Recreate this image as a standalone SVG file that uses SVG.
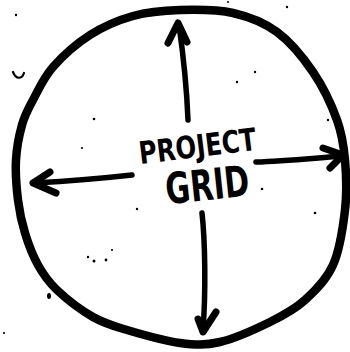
<svg xmlns="http://www.w3.org/2000/svg" width="350" height="352" viewBox="0 0 350 352">
<style>
.ink{fill:none;stroke:#000;stroke-linecap:round;stroke-linejoin:round}
.ring{stroke-width:8.5}
.shaft{stroke-width:5.5}
.head{stroke-width:7}
.lbl{font-family:"DejaVu Sans Condensed","DejaVu Sans","Liberation Sans",sans-serif;font-weight:bold;fill:#000}
.dot{fill:#000}
</style>
<rect width="350" height="352" fill="#fff"/>
<g id="grid">
<path class="ink ring" d="M180,10 C196.7,9.5 216.8,9.3 233,13 C249.2,16.7 263.7,22.2 277,32 C290.3,41.8 303,57.3 313,72 C323,86.7 331.7,105.3 337,120 C342.3,134.7 343.7,145 345,160 C346.3,175 347,192.5 345,210 C343,227.5 339.7,250 333,265 C326.3,280 315.5,290.5 305,300 C294.5,309.5 284.2,315 270,322 C255.8,329 235,338.5 220,342 C205,345.5 195.5,345 180,343 C164.5,341 141.5,334.3 127,330 C112.5,325.7 104.7,323.7 93,317 C81.3,310.3 66.2,298.7 57,290 C47.8,281.3 43.3,274.5 38,265 C32.7,255.5 28.3,243.8 25,233 C21.7,222.2 19.5,212.2 18,200 C16.5,187.8 15.3,172.5 16,160 C16.7,147.5 19.2,135 22,125 C24.8,115 27.8,109.7 33,100 C38.2,90.3 43.5,77.8 53,67 C62.5,56.2 76.7,43.5 90,35 C103.3,26.5 118,20.2 133,16 C148,11.8 163.3,10.5 180,10 Z"/>
<text class="lbl" x="138" y="157" font-size="31" textLength="118" lengthAdjust="spacingAndGlyphs" transform="rotate(-7 197 142)">PROJECT</text>
<text class="lbl" x="165" y="200" font-size="43" textLength="84" lengthAdjust="spacingAndGlyphs" transform="rotate(-6 207 182)">GRID</text>
</g>
<g id="connectors">
<path class="ink shaft" d="M188,120 C187,95 184,60 179,25"/>
<path class="ink head" d="M168,43 L178,23 L187,42"/>
<path class="ink shaft" d="M132,175 C105,178 70,181 34,183"/>
<path class="ink head" d="M50,172 L33,183 L56,193"/>
<path class="ink shaft" d="M256,162 C285,161 315,158 344,156"/>
<path class="ink head" d="M323,148 L343,155 L330,168"/>
<path class="ink shaft" d="M202,213 C205,240 206,290 203,330"/>
<path class="ink head" d="M198,319 L203,332 L216,312"/>
</g>
<g id="marks">
<path class="ink" stroke-width="2.2" d="M13,72 C16,80 22,79 24,73"/>
<ellipse class="dot" cx="49" cy="296" rx="2" ry="3"/>
<circle class="dot" cx="16" cy="15" r="1.2"/>
<circle class="dot" cx="287" cy="7" r="1.2"/>
<circle class="dot" cx="94" cy="119" r="1.3"/>
<circle class="dot" cx="82" cy="148" r="1.1"/>
<circle class="dot" cx="255" cy="72" r="1.2"/>
<circle class="dot" cx="237" cy="82" r="1.2"/>
<circle class="dot" cx="328" cy="120" r="1.2"/>
<circle class="dot" cx="262" cy="189" r="1.3"/>
<circle class="dot" cx="315" cy="213" r="1.3"/>
<circle class="dot" cx="94" cy="261" r="1.5"/>
<circle class="dot" cx="106" cy="260" r="1.4"/>
<circle class="dot" cx="88" cy="257" r="1.2"/>
<circle class="dot" cx="112" cy="250" r="1.1"/>
<circle class="dot" cx="137" cy="209" r="1.2"/>
<circle class="dot" cx="4" cy="333" r="1.1"/>
<circle class="dot" cx="228" cy="2" r="1"/>
</g>
</svg>
